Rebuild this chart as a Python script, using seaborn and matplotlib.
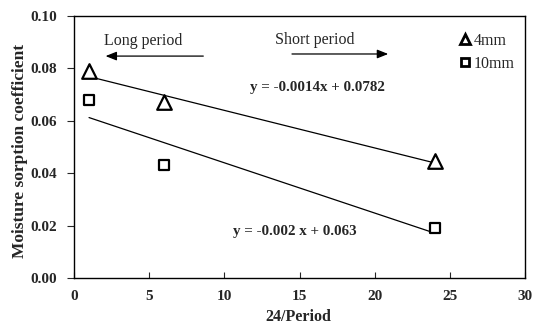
import numpy as np
import pandas as pd
import matplotlib
matplotlib.use("Agg")
import matplotlib.pyplot as plt
from matplotlib.lines import Line2D
import seaborn as sns

# Data
x_vals = [1, 6, 24]
y_4mm = [0.079, 0.067, 0.0445]
y_10mm = [0.068, 0.043, 0.019]
series = ["4mm", "10mm"]
fit_labels = ["y = -0.0014x + 0.0782", "y = -0.002 x + 0.063"]
x_ticks = [0, 5, 10, 15, 20, 25, 30]
y_ticks = [0.00, 0.02, 0.04, 0.06, 0.08, 0.10]

sns.set_theme(style="white")
plt.rcParams['font.family'] = ['Liberation Serif', 'DejaVu Serif']

df = pd.DataFrame({
    "x": x_vals * 2,
    "y": y_4mm + y_10mm,
    "series": [series[0]] * 3 + [series[1]] * 3,
})

fig = plt.figure(figsize=(5.37, 3.26), dpi=100)
ax = fig.add_axes([74/537, 1 - 278/326, (525-74)/537, (278-16)/326])

# least-squares fit lines from the data
for s in series:
    sub = df[df["series"] == s]
    m, b = np.polyfit(sub["x"], sub["y"], 1)
    xs = np.array([sub["x"].min(), sub["x"].max()], dtype=float)
    sns.lineplot(x=xs, y=m * xs + b, ax=ax, color="black", linewidth=0.9,
                 legend=False)

sns.scatterplot(data=df[df["series"] == "4mm"], x="x", y="y", marker="^",
                s=110, facecolor="white", edgecolor="black", linewidth=1.6,
                ax=ax, legend=False, zorder=5)
sns.scatterplot(data=df[df["series"] == "10mm"], x="x", y="y", marker="s",
                s=50, facecolor="white", edgecolor="black", linewidth=1.6,
                ax=ax, legend=False, zorder=5)

ax.set_xlim(0, 30)
ax.set_ylim(0, 0.10)
ax.set_xticks(x_ticks)
ax.set_yticks(y_ticks)
ax.set_xticklabels([str(t) for t in x_ticks], fontweight="bold", fontsize=11)
ax.set_yticklabels([f"{t:.2f}" for t in y_ticks], fontweight="bold", fontsize=11)
ax.tick_params(axis="x", direction="in", length=4, width=0.8, pad=9, bottom=True)
ax.tick_params(axis="y", direction="out", length=5, width=0.8, pad=7, left=True)
for sp in ax.spines.values():
    sp.set_color("black")
    sp.set_linewidth(1.0)

ax.set_xlabel("24/Period", fontweight="bold", fontsize=11.5)
ax.set_ylabel("Moisture sorption coefficient", fontweight="bold", fontsize=12.5)
ax.xaxis.set_label_coords((298 - 74) / 451, -(317 - 278) / 262)
ax.yaxis.set_label_coords((20 - 74) / 451, (278 - 151) / 262)
ax.xaxis.label.set_va("center")
ax.yaxis.label.set_va("center")

# annotations
arrow_kw = dict(arrowstyle="-|>,head_length=0.55,head_width=0.22", color="black",
                lw=0.9, mutation_scale=12, shrinkA=0, shrinkB=0)
ax.text(2.0, 0.0905, "Long period", fontsize=11.5, va="center", ha="left")
ax.annotate("", xy=(2.1, 0.0847), xytext=(8.6, 0.0847), arrowprops=arrow_kw)
ax.text(13.4, 0.0910, "Short period", fontsize=11.5, va="center", ha="left")
ax.annotate("", xy=(20.9, 0.0855), xytext=(14.5, 0.0855), arrowprops=arrow_kw)
ax.text(11.7, 0.0729, fit_labels[0], fontsize=10.8, fontweight="bold",
        va="center", ha="left")
ax.text(10.6, 0.0176, fit_labels[1], fontsize=10.8, fontweight="bold",
        va="center", ha="left")

handles = [
    Line2D([], [], linestyle="none", marker="^", markersize=7,
           markerfacecolor="white", markeredgecolor="black", markeredgewidth=2.0),
    Line2D([], [], linestyle="none", marker="s", markersize=6,
           markerfacecolor="white", markeredgecolor="black", markeredgewidth=2.0),
]
ax.legend(handles, series, loc="upper right", frameon=False, fontsize=11.5,
          handletextpad=0.15, handlelength=0.8, borderaxespad=0.0,
          labelspacing=0.45, bbox_to_anchor=(0.991, 0.96))

fig.savefig("out.png", dpi=100)
